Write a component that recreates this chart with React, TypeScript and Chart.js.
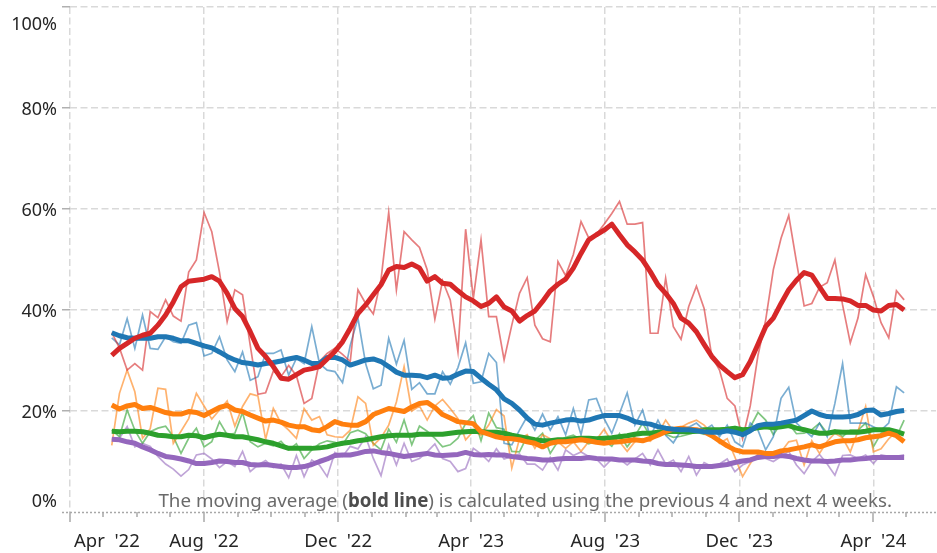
import React, { useEffect, useRef } from 'react';
import { Chart, registerables } from 'chart.js';

Chart.register(...registerables);

// ---- categories: weekly points (days after 1 Apr 2022); first week = 9 May 2022 ----
const AXIS_ORIGIN = Date.UTC(2022, 3, 1);
const DAY_MS = 86400000;
const FIRST_WEEK = Date.UTC(2022, 4, 9);
const WEEK_COUNT = 104;
const weekDays: number[] = Array.from({ length: WEEK_COUNT }, (_, i) => (FIRST_WEEK - AXIS_ORIGIN) / DAY_MS + 7 * i);

// ---- tick labels ----
const majorTickDates = ['2022-04-01', '2022-08-01', '2022-12-01', '2023-04-01', '2023-08-01', '2023-12-01', '2024-04-01'];
const majorTickLabels = ["Apr  '22", "Aug  '22", "Dec  '22", "Apr  '23", "Aug  '23", "Dec  '23", "Apr  '24"];
const yTickValues = [0, 20, 40, 60, 80, 100];
const yTickLabels = ['0%', '20%', '40%', '60%', '80%', '100%'];
const X_MAX_DAY = 788;

const toDay = (iso: string) => (Date.parse(iso + 'T00:00:00Z') - AXIS_ORIGIN) / DAY_MS;
const majorTickDays = majorTickDates.map(toDay);
const monthDays: number[] = [];
for (let m = 0; m < 26; m++) monthDays.push((Date.UTC(2022, 3 + m, 1) - AXIS_ORIGIN) / DAY_MS);

// ---- series (percent) ----
const redRaw = [35.5, 32.5, 28.1, 29.4, 28.1, 39.7, 38.5, 42, 38.8, 37.8,
  47.5, 49.9, 59.3, 55.5, 47.5, 37.7, 44, 43, 33, 23.3,
  23.6, 27.9, 26.8, 29, 27, 21.5, 22.5, 29.8, 31.4, 32.4,
  31.2, 29.8, 44, 41.3, 39.2, 46, 59.3, 44, 55.5, 53.9,
  52.4, 48, 38.2, 45.8, 42, 31.7, 56, 42.3, 53.9, 38.7,
  38.7, 30.1, 37, 43.3, 46.4, 37, 34.3, 33.7, 49.6, 46.8,
  51, 57.5, 54.3, 55, 57, 59.1, 61.5, 57, 57, 57.3,
  35.4, 35.4, 46.3, 36.7, 34.2, 40.7, 44.7, 40.3, 30.8, 28.1,
  22.5, 21, 14.5, 21, 31, 38, 48, 54.2, 58.7, 49.6,
  40.8, 41.3, 44.5, 45.4, 49.9, 41, 33.5, 38.4, 47, 42.7,
  37.5, 34.5, 43.8, 42];
const redAvg = [31, 32.4, 33.4, 34.4, 35, 35.4, 37, 39, 41.6, 44.6,
  45.7, 45.9, 46.1, 46.6, 45.7, 43.3, 40.3, 38.7, 35.7, 32.4,
  30.8, 28.8, 26.5, 26.3, 27.2, 28.1, 28.4, 28.8, 30.3, 31.8,
  33.7, 36.4, 39.3, 41, 43, 45, 47.9, 48.6, 48.4, 49.1,
  48.3, 45.7, 46.6, 45.3, 45.1, 43.8, 42.6, 41.8, 40.7, 41.3,
  42.6, 40.6, 39.8, 37.8, 38.9, 39.8, 41.7, 43.8, 45.1, 46.1,
  48.3, 51.2, 53.9, 54.9, 55.8, 57, 54.9, 52.9, 51.5, 49.9,
  47.6, 45, 43.3, 41.3, 38.4, 37.4, 35.7, 33.2, 30.8, 29.1,
  27.8, 26.6, 27.2, 29.8, 33.2, 36.7, 38.4, 41.3, 44, 45.9,
  47.4, 46.9, 44.6, 42.3, 42.3, 42.2, 41.8, 40.9, 40.9, 40,
  39.8, 40.9, 41.1, 40];

const blueRaw = [34.5, 33.1, 38.3, 32.4, 39, 32.4, 32.2, 34.7, 33.7, 33.4,
  37, 37.5, 30.9, 31.4, 34.7, 30.1, 27.8, 31.7, 26.1, 26.8,
  31.4, 31.4, 32.1, 27.1, 30.4, 29.4, 36.7, 29.4, 28.1, 27.8,
  25.6, 33, 38.4, 29.4, 24.4, 25.1, 34.4, 29.3, 34, 24.3,
  25.6, 23.4, 23.4, 27.8, 25.3, 28.6, 33.5, 25.5, 25.8, 31.4,
  29.6, 13.6, 13.3, 16.2, 18.9, 16.2, 19.4, 16.2, 18.9, 15.3,
  20.5, 15.3, 22.2, 22.5, 18.5, 15.6, 19.5, 23.6, 17.2, 20.2,
  14.9, 18.2, 15.2, 13.7, 16.2, 16.8, 17.6, 16.2, 17.2, 14.9,
  17.2, 13.9, 12.9, 17.6, 16.2, 12.3, 14.9, 22.5, 24.7, 17.6,
  16.2, 14.9, 17.6, 14.9, 21.5, 29.4, 17.6, 17.6, 17.6, 16.9,
  16.2, 17.6, 24.8, 23.6];
const blueAvg = [35.5, 34.9, 34.5, 34.4, 34.4, 34.4, 34.7, 34.7, 34.4, 33.9,
  33.9, 33.4, 32.9, 32.5, 31.7, 30.8, 30.1, 29.6, 29.4, 29.1,
  29.4, 29.6, 29.9, 30.3, 30.6, 30.1, 29.4, 29.4, 30.6, 30.6,
  30.1, 29.1, 29.6, 30.1, 30.3, 29.8, 28.8, 27.7, 27.1, 27.1,
  27, 26.6, 27.1, 26.5, 26.6, 27.3, 27.9, 27.8, 26.5, 25.3,
  24.2, 22.4, 21.5, 20.2, 18.6, 17.4, 17.2, 17.6, 17.9, 18.2,
  18.3, 18, 18.2, 18.7, 19.1, 19.1, 19.1, 18.6, 17.9, 17.6,
  17.4, 16.9, 16.6, 16.4, 16.3, 16.3, 16.1, 15.9, 15.8, 15.8,
  16.1, 15.8, 15.3, 16.1, 17.1, 17.4, 17.4, 17.6, 17.9, 18.2,
  19.1, 20, 19.3, 18.9, 18.8, 18.8, 18.9, 19.3, 20.1, 20.2,
  19.2, 19.5, 19.9, 20.1];

const orangeRaw = [13.2, 23.5, 28.1, 23.8, 14.6, 16.5, 24.5, 24.3, 13.6, 16,
  18.5, 23.5, 21, 18.4, 20.2, 22, 17, 20.9, 23.4, 23,
  14.4, 20.5, 17.6, 16.2, 14.6, 20.5, 18.2, 18.9, 15.3, 14.9,
  14.8, 16.2, 22.8, 21.5, 13.2, 14.7, 17.2, 21.8, 28.8, 20,
  21, 18.2, 21, 22.3, 20.5, 18.5, 14.3, 16, 15.2, 17.2,
  20.3, 19, 8.7, 14.5, 15.3, 12.6, 15.3, 14.5, 13.9, 12.6,
  13.9, 12, 13.9, 14.3, 16.4, 13.9, 13.9, 12, 13.9, 14.5,
  14, 15.5, 18.2, 16, 16.8, 17.6, 18.2, 17.2, 15.6, 13.6,
  14.5, 10.9, 7, 9.6, 11.5, 11, 10.8, 11.9, 13.9, 14.2,
  9.3, 14.1, 11.6, 14, 15.6, 14.7, 11.9, 16, 20.9, 11.9,
  12.5, 14.5, 16, 15.5];
const orangeAvg = [21.2, 20.4, 21, 21.3, 20.5, 20.7, 20.2, 19.7, 19.4, 19.4,
  19.9, 19.7, 19.1, 19.9, 20.7, 21.1, 20.2, 19.9, 19.2, 18.6,
  18, 18.2, 17.8, 17.2, 16.9, 16.9, 16.3, 16.1, 16.9, 17.9,
  17.4, 17.2, 17.2, 17.9, 19.3, 19.9, 20.5, 20.2, 19.9, 20.8,
  21.5, 21.7, 20.7, 19.3, 18.6, 17.9, 17.7, 17.5, 15.9, 15.4,
  14.9, 14.6, 14.5, 14.3, 13.9, 13.6, 12.9, 13.6, 13.9, 13.9,
  14.1, 14.3, 14.1, 13.8, 13.6, 13.8, 13.9, 14.1, 14.3, 14.1,
  14.6, 15.2, 15.9, 16.4, 16.6, 16.4, 16.3, 15.9, 15.1, 14.1,
  13.1, 12.3, 11.9, 11.9, 11.9, 11.6, 11.6, 12.1, 12.3, 12.6,
  12.9, 13.3, 12.9, 13.4, 13.9, 14.1, 14.1, 14.3, 14.7, 14.9,
  15.1, 15.6, 15.1, 13.9];

const greenRaw = [16.2, 14.9, 20.2, 16.2, 13.6, 15.9, 16.6, 17, 14.9, 11.6,
  14.6, 16.6, 12.9, 13.9, 17.9, 15.3, 15.6, 19.7, 13.9, 12.9,
  13.6, 13.1, 14, 12.3, 13.5, 10.6, 12.3, 13.5, 14.1, 13.8,
  13.3, 15.7, 16.2, 15.5, 13.6, 12.3, 16.4, 13.8, 18.2, 13.3,
  17, 16, 14.6, 12.9, 13.3, 14.6, 17.5, 19.1, 14.1, 19.6,
  16.7, 16.4, 12, 11.9, 15, 14.2, 15.6, 11.6, 14, 14.8,
  15.2, 14.3, 13.5, 14, 14.2, 13, 15.5, 12.9, 15, 17.6,
  15, 16.2, 15.4, 14.8, 15, 15.4, 15.8, 15.4, 16.4, 15.4,
  16.6, 16.9, 15, 16.8, 19.7, 18.2, 15.3, 17.6, 17.5, 15.5,
  15.6, 16.3, 17.6, 15.6, 16.2, 14.9, 16.2, 16.2, 17.6, 12.9,
  15.6, 16.2, 14.9, 18.2];
const greenAvg = [16, 15.9, 16, 16, 15.9, 15.6, 15.2, 15.1, 14.9, 14.9,
  15.2, 15.1, 14.7, 15.1, 15.4, 15.2, 14.9, 14.9, 14.6, 14.3,
  13.9, 13.6, 13.1, 12.6, 12.6, 12.6, 12.6, 12.7, 12.9, 13.3,
  13.6, 13.8, 14.1, 14.3, 14.6, 14.9, 15.1, 15.2, 15.2, 15.2,
  15.4, 15.4, 15.4, 15.4, 15.6, 15.8, 15.9, 16, 15.9, 15.8,
  15.8, 15.6, 15.2, 14.9, 14.6, 14.3, 14.1, 14.1, 14.3, 14.3,
  14.5, 14.6, 14.6, 14.5, 14.6, 14.7, 14.9, 15.1, 15.4, 15.6,
  15.6, 15.8, 15.9, 16, 15.9, 15.9, 16, 16.3, 16.3, 16.3,
  16.4, 16.6, 16.3, 16.4, 16.7, 16.9, 16.7, 16.9, 17.1, 16.6,
  16.3, 15.9, 15.6, 15.6, 15.9, 15.8, 15.8, 15.8, 16, 16.3,
  16.3, 16.3, 15.9, 15.4];

const purpleRaw = [14.4, 14.6, 16.9, 12.9, 13.6, 13, 11, 9.5, 8.5, 7.1,
  8.4, 11.3, 11.6, 10.5, 8.8, 10, 9, 12, 8, 9.3,
  10.2, 8.8, 9.5, 6.8, 11.2, 7, 10.3, 9.3, 7, 11.8,
  11, 13, 12.5, 14.9, 10.6, 7.2, 13.3, 9.3, 13.6, 10,
  10.6, 11.9, 13.5, 10.6, 10, 8, 8.6, 12.6, 11.5, 10,
  12.5, 10.5, 11, 11.5, 9.5, 9.5, 8.3, 10.8, 8.3, 12.3,
  11.2, 11.9, 11, 10.5, 8.9, 10.5, 10.5, 9.3, 10.5, 11.6,
  9.3, 12.3, 9.5, 10.3, 8, 11, 7.3, 9.8, 9, 9.5,
  10.5, 8, 9.3, 10, 11.3, 10.6, 10, 11, 12, 9.3,
  7.6, 10, 11.4, 9.5, 7.3, 11.2, 11.3, 10.6, 11.3, 9.6,
  11.3, 11, 11, 11.3];
const purpleAvg = [14.4, 14.3, 13.9, 13.6, 12.9, 12.3, 11.6, 11, 10.8, 10.5,
  10.1, 9.6, 9.6, 9.8, 10.1, 10, 9.8, 9.8, 9.4, 9.3,
  9.4, 9.2, 9, 8.8, 8.8, 9, 9.4, 10, 10.5, 11.2,
  11.3, 11.3, 11.6, 12, 12.1, 11.8, 11.6, 11.3, 11, 11.2,
  11.4, 11.6, 11.3, 11.2, 11.3, 11.4, 11.8, 11.4, 11.3, 11.4,
  11.3, 11.3, 11, 10.8, 10.6, 10.5, 10.3, 10.3, 10.5, 10.6,
  10.6, 10.6, 10.8, 10.6, 10.5, 10.5, 10.3, 10.3, 10.3, 10.1,
  10, 9.6, 9.4, 9.4, 9.3, 9.2, 9, 9, 9, 9.2,
  9.4, 9.8, 10.1, 10.3, 10.8, 11, 11, 11.2, 11, 10.6,
  10.3, 10.1, 10.1, 10, 10.1, 10.3, 10.3, 10.5, 10.6, 10.8,
  10.8, 10.8, 10.8, 10.8];

const seriesColors = {
  red: [214, 39, 40],
  blue: [31, 119, 180],
  orange: [255, 127, 14],
  green: [44, 160, 44],
  purple: [148, 103, 189],
};

const noteParts = [
  { text: 'The moving average (', bold: false },
  { text: 'bold line', bold: true },
  { text: ') is calculated using the previous 4 and next 4 weeks.', bold: false },
];

const FONT_FAMILY = '"Noto Sans", "Open Sans", "DejaVu Sans", sans-serif';
const LABEL_COLOR = '#262626';

const toPoints = (vals: number[]) => vals.map((v, i) => ({ x: weekDays[i], y: v }));
const rgba = (c: number[], a: number) => `rgba(${c[0]},${c[1]},${c[2]},${a})`;

const decorPlugin = {
  id: 'decor',
  beforeDatasetsDraw(chart: any) {
    const { ctx, chartArea, scales } = chart;
    const y0 = Math.round(scales.y.getPixelForValue(0)) + 0.5;
    ctx.save();
    ctx.strokeStyle = '#a8a8a8';
    ctx.lineWidth = 1.5;
    ctx.setLineDash([2, 2]);
    ctx.beginPath();
    ctx.moveTo(chartArea.left - 8, y0);
    ctx.lineTo(chartArea.right, y0);
    ctx.stroke();
    ctx.restore();
  },
  afterDraw(chart: any) {
    const { ctx, chartArea, scales } = chart;
    const xs = scales.x;
    const ys = scales.y;
    const bottom = chartArea.bottom;
    ctx.save();
    // month tick marks
    ctx.strokeStyle = '#a8a8a8';
    ctx.lineWidth = 1.5;
    ctx.setLineDash([]);
    monthDays.forEach((d) => {
      const px = Math.round(xs.getPixelForValue(d));
      const major = majorTickDays.includes(d);
      ctx.beginPath();
      ctx.moveTo(px, bottom);
      ctx.lineTo(px, bottom + (major ? 10 : 5));
      ctx.stroke();
    });
    // x labels
    ctx.fillStyle = LABEL_COLOR;
    ctx.font = `18.5px ${FONT_FAMILY}`;
    ctx.textBaseline = 'alphabetic';
    majorTickDays.forEach((d, k) => {
      const px = xs.getPixelForValue(d);
      if (k === 0) {
        ctx.textAlign = 'left';
        ctx.fillText(majorTickLabels[k], px + 4, bottom + 35);
      } else {
        ctx.textAlign = 'center';
        ctx.fillText(majorTickLabels[k], px, bottom + 35);
      }
    });
    // y labels
    ctx.font = `18px ${FONT_FAMILY}`;
    ctx.textAlign = 'right';
    yTickValues.forEach((v, k) => {
      let py = ys.getPixelForValue(v);
      if (k === yTickValues.length - 1) py += 16;
      if (k === 0) py -= 12;
      ctx.fillText(yTickLabels[k], chartArea.left - 13, py + 6.5);
    });
    // note
    const targetWidth = 734;
    const baseSize = 17;
    const measure = (size: number) => noteParts.reduce((w, p) => {
      ctx.font = `${p.bold ? 'bold ' : ''}${size}px ${FONT_FAMILY}`;
      return w + ctx.measureText(p.text).width;
    }, 0);
    const size = Math.min(19, baseSize * targetWidth / measure(baseSize));
    const total = measure(size);
    let nx = 892 - total;
    const ny = ys.getPixelForValue(0) - 5.5;
    ctx.textAlign = 'left';
    noteParts.forEach((p) => {
      ctx.font = `${p.bold ? 'bold ' : ''}${size}px ${FONT_FAMILY}`;
      ctx.fillStyle = p.bold ? '#4d4d4d' : '#6a6a6a';
      ctx.fillText(p.text, nx, ny);
      nx += ctx.measureText(p.text).width;
    });
    ctx.restore();
  },
};

export default function App() {
  const canvasRef = useRef<HTMLCanvasElement | null>(null);

  useEffect(() => {
    document.body.style.margin = '0';
    const canvas = canvasRef.current;
    if (!canvas) return;

    const thin = (vals: number[], c: number[], order: number) => ({
      data: toPoints(vals),
      borderColor: rgba(c, 0.6),
      borderWidth: 1.7,
      pointRadius: 0,
      tension: 0,
      fill: false,
      order,
    });
    const bold = (vals: number[], c: number[], order: number) => ({
      data: toPoints(vals),
      borderColor: rgba(c, 1),
      borderWidth: 5,
      borderJoinStyle: 'round',
      pointRadius: 0,
      tension: 0,
      fill: false,
      order,
    });

    const chart = new Chart(canvas, {
      type: 'line',
      data: {
        datasets: [
          bold(redAvg, seriesColors.red, 0),
          bold(blueAvg, seriesColors.blue, 1),
          bold(orangeAvg, seriesColors.orange, 2),
          bold(greenAvg, seriesColors.green, 3),
          bold(purpleAvg, seriesColors.purple, 4),
          thin(redRaw, seriesColors.red, 10),
          thin(blueRaw, seriesColors.blue, 11),
          thin(orangeRaw, seriesColors.orange, 12),
          thin(greenRaw, seriesColors.green, 13),
          thin(purpleRaw, seriesColors.purple, 14),
        ] as any,
      },
      options: {
        animation: false,
        responsive: false,
        devicePixelRatio: 1,
        layout: { padding: { top: 7, right: 1, left: 0, bottom: 0 } },
        plugins: { legend: { display: false }, tooltip: { enabled: false } },
        scales: {
          x: {
            type: 'linear',
            min: 0,
            max: X_MAX_DAY,
            afterBuildTicks: (s: any) => { s.ticks = majorTickDays.map((v) => ({ value: v })); },
            afterFit: (s: any) => { s.height = 41; },
            ticks: { display: false },
            border: { display: false, dash: [7, 3.5] },
            grid: { color: '#d9d9d9', lineWidth: 1.5, drawTicks: false },
          },
          y: {
            min: 0,
            max: 100,
            afterBuildTicks: (s: any) => { s.ticks = yTickValues.map((v) => ({ value: v })); },
            afterFit: (s: any) => { s.width = 70; },
            ticks: { display: false },
            border: { display: false, dash: [7, 3.5] },
            grid: {
              color: (c: any) => (c.tick && c.tick.value === 0 ? 'rgba(0,0,0,0)' : '#d9d9d9'),
              lineWidth: 1.5,
              drawTicks: true,
              tickLength: 8,
              tickColor: (c: any) => (c.tick && c.tick.value === 0 ? 'rgba(0,0,0,0)' : '#b0b0b0'),
              tickWidth: 1.5,
            },
          },
        },
      } as any,
      plugins: [decorPlugin as any],
    });

    return () => chart.destroy();
  }, []);

  return (
    <div style={{ width: 937, height: 553, position: 'relative' }}>
      <canvas ref={canvasRef} width={937} height={553} style={{ display: 'block' }} />
    </div>
  );
}
